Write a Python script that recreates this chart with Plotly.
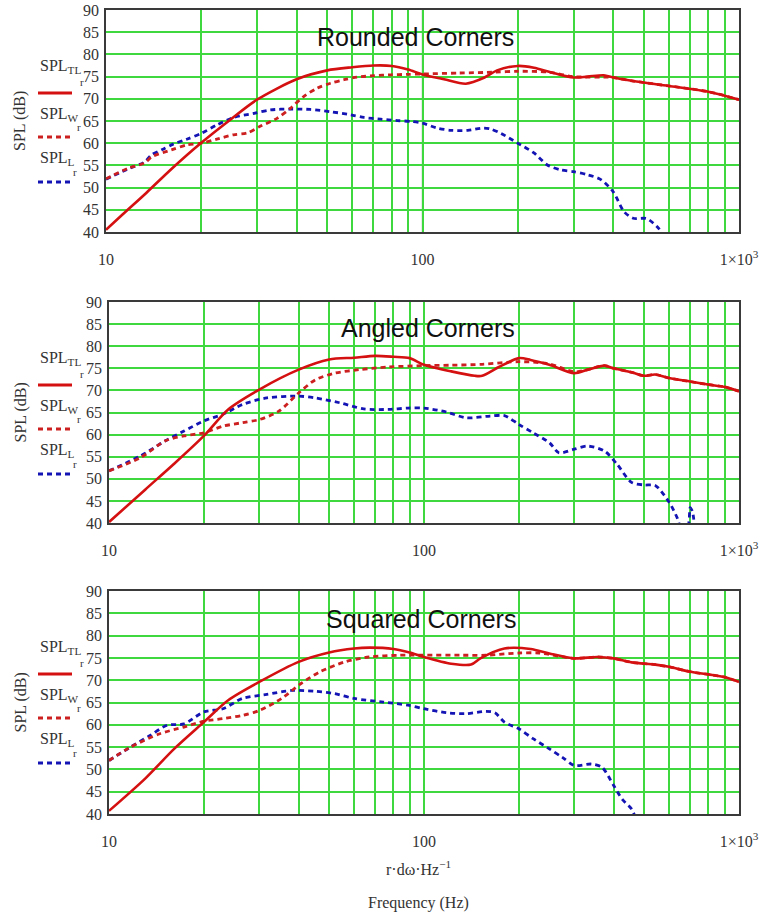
import plotly.graph_objects as go

# ---------------- data ----------------
titles = ["Rounded Corners", "Angled Corners", "Squared Corners"]

# Rounded corners
rounded_tl_f = [10, 11.3, 13.4, 16.1, 20, 24.7, 30, 40, 50, 60, 70, 80, 90, 100, 117, 137, 157, 172, 200, 225, 254, 300, 332, 374, 400, 463, 600, 800, 1000]
rounded_tl_db = [40.5, 44.0, 48.8, 54.2, 60.1, 65.3, 69.8, 74.4, 76.4, 77.1, 77.5, 77.4, 76.6, 75.5, 74.4, 73.4, 74.8, 76.4, 77.4, 77.0, 76.0, 74.8, 75.0, 75.3, 74.8, 74.0, 72.9, 71.6, 69.8]
rounded_w_f = [10, 11.8, 13.2, 14.0, 16.1, 18.0, 20, 22.4, 25.3, 27.9, 30.7, 34.7, 38.3, 42.1, 46.5, 51.2, 56.5, 62.2, 70.3, 79.3, 89.5, 100, 130, 170, 200, 250, 300, 400, 463, 600, 800, 1000]
rounded_w_db = [52.0, 54.4, 55.5, 57.0, 58.5, 59.6, 60.0, 60.9, 61.9, 62.3, 63.8, 65.6, 67.9, 70.5, 72.4, 73.5, 74.3, 74.9, 75.2, 75.4, 75.5, 75.6, 75.8, 76.0, 76.2, 76.0, 75.0, 74.8, 74.0, 72.9, 71.6, 69.8]
rounded_l_f = [10, 11.9, 13.2, 13.95, 15.0, 16.3, 18.0, 20, 22.4, 25.3, 29.3, 33.1, 38.3, 44.2, 51.2, 59.3, 65.3, 73.8, 83.2, 91.8, 100, 111.5, 123, 139, 155, 164, 177, 200, 225, 248, 273, 300, 332, 366, 400, 433, 463, 511, 556, 580]
rounded_l_db = [51.9, 54.4, 55.7, 57.4, 58.5, 59.8, 60.9, 62.2, 64.1, 65.8, 66.7, 67.5, 67.7, 67.6, 67.1, 66.4, 65.8, 65.4, 65.1, 64.9, 64.5, 63.4, 62.9, 62.9, 63.4, 63.2, 62.2, 60.0, 57.8, 55.1, 54.0, 53.6, 52.9, 51.8, 49.1, 44.6, 43.1, 43.0, 40.9, 39.0]

# Angled corners
angled_tl_f = [10, 13.05, 16.1, 20, 23.9, 30, 40, 50, 60, 70, 80, 90, 100, 122, 145, 153, 173, 200, 218, 250, 300, 331, 374, 400, 456, 500, 542, 600, 700, 800, 900, 1000]
angled_tl_db = [40.2, 47.6, 53.4, 59.7, 65.7, 70.2, 74.7, 77.0, 77.4, 77.8, 77.6, 77.3, 75.8, 74.3, 73.3, 73.3, 75.3, 77.3, 76.9, 75.8, 73.9, 74.7, 75.6, 75.0, 74.1, 73.3, 73.6, 72.8, 72.0, 71.3, 70.8, 69.8]
angled_w_f = [10, 12.6, 15.1, 17.3, 20, 23.0, 26.5, 30, 34.6, 40, 45.2, 52.1, 62.3, 77.0, 100, 122, 153, 200, 250, 300, 331, 374, 400, 456, 500, 542, 600, 700, 800, 900, 1000]
angled_w_db = [51.8, 54.8, 58.6, 59.7, 60.4, 61.9, 62.7, 63.4, 65.3, 69.4, 72.4, 73.9, 74.7, 75.3, 75.6, 75.7, 75.9, 76.5, 76.0, 74.2, 74.7, 75.6, 75.0, 74.1, 73.3, 73.6, 72.8, 72.0, 71.3, 70.8, 69.8]
angled_l_f = [10, 12.6, 15.1, 17.3, 20, 23, 26.5, 31.7, 40, 45.2, 54, 64.4, 77, 89, 100, 118, 136, 162, 180, 200, 222, 250, 268, 300, 330, 374, 410, 456, 500, 542, 600, 638, 660, 690, 700, 712, 725]
angled_l_db = [51.8, 55.2, 58.6, 60.8, 63.1, 64.6, 66.8, 68.3, 68.7, 68.3, 67.2, 65.8, 65.7, 66.0, 66.0, 65.1, 63.8, 64.2, 64.3, 62.3, 60.4, 58.2, 55.9, 56.7, 57.4, 56.3, 53.3, 49.2, 48.6, 48.5, 44.7, 41.0, 38.0, 39.5, 43.5, 42.5, 38.0]

# Squared corners
squared_tl_f = [10, 13.05, 16.1, 20, 23.9, 30, 40, 50, 60, 67.1, 80, 90, 100, 122, 141, 151, 180, 218, 250, 300, 355, 400, 456, 542, 600, 700, 800, 900, 1000]
squared_tl_db = [40.7, 48.0, 54.6, 60.6, 65.5, 69.6, 74.1, 76.2, 77.1, 77.3, 77.0, 76.2, 75.2, 73.7, 73.5, 74.9, 77.1, 77.0, 76.0, 74.9, 75.2, 74.9, 74.0, 73.5, 73.0, 71.9, 71.3, 70.7, 69.6]
squared_w_f = [10, 11.7, 14.5, 17.3, 20, 23, 26.5, 30, 35.3, 40.6, 46.8, 56, 67, 83.5, 100, 131, 157, 200, 232, 300, 355, 400, 456, 542, 600, 700, 800, 900, 1000]
squared_w_db = [52.0, 55.0, 58.0, 59.5, 60.8, 61.4, 62.1, 63.2, 65.9, 69.2, 71.9, 74.1, 75.2, 75.6, 75.6, 75.6, 75.6, 76.1, 76.1, 74.9, 75.2, 74.9, 74.0, 73.5, 73.0, 71.9, 71.3, 70.7, 69.6]
squared_l_f = [10, 11.7, 13.5, 15.3, 17.3, 20, 23, 26.5, 31.7, 37.9, 45.2, 52, 60, 74.4, 89, 100, 118, 136, 157, 168, 180, 200, 222, 250, 275, 300, 340, 367, 400, 425, 456, 470]
squared_l_db = [52.0, 55.0, 57.6, 59.9, 60.2, 62.9, 63.6, 65.9, 66.8, 67.7, 67.5, 67.0, 65.9, 65.1, 64.4, 63.6, 62.7, 62.5, 63.0, 62.7, 60.6, 59.1, 56.9, 54.6, 52.7, 50.9, 51.2, 50.5, 46.4, 43.4, 41.1, 39.0]

x_tick_vals = [10, 20, 30, 40, 50, 60, 70, 80, 90, 100, 200, 300, 400, 500, 600, 700, 800, 900, 1000]
x_tick_text = ["10", "", "", "", "", "", "", "", "", "100", "", "", "", "", "", "", "", "", "1×10<sup>3</sup>"]
y_tick_vals = [40, 45, 50, 55, 60, 65, 70, 75, 80, 85, 90]

legend_names = ["SPL<sub>TL</sub>", "SPL<sub>W</sub>", "SPL<sub>L</sub>"]
legend_sub = "r"

panels = [
    (rounded_tl_f, rounded_tl_db, rounded_w_f, rounded_w_db, rounded_l_f, rounded_l_db),
    (angled_tl_f, angled_tl_db, angled_w_f, angled_w_db, angled_l_f, angled_l_db),
    (squared_tl_f, squared_tl_db, squared_w_f, squared_w_db, squared_l_f, squared_l_db),
]

# ---------------- layout geometry ----------------
W, H = 761, 914


def px(x):
    return x / W


def py(y):
    return 1 - y / H


plot_px = [(106, 739, 10, 232), (109, 739, 302, 523), (109, 739, 591, 814)]
title_px = [(415, 37), (428, 328), (421, 619)]

RED = "#d41010"
RED_D = "#cc2020"
BLUE = "#1414b4"
GRID = "#3fd93f"
SERIF = "Liberation Serif, Times New Roman, serif"
TXT = "#333333"

fig = go.Figure()
layout = dict(width=W, height=H, margin=dict(l=0, r=0, t=0, b=0, autoexpand=False),
              paper_bgcolor="white", plot_bgcolor="white", showlegend=False)
annotations = []
shapes = []

for i, (tlf, tld, wf, wd, lf, ld) in enumerate(panels):
    n = "" if i == 0 else str(i + 1)
    xa, ya = "x" + n, "y" + n
    x0, x1, y0, y1 = plot_px[i]
    layout["xaxis" + n] = dict(
        type="log", range=[1, 3], domain=[px(x0), px(x1)], anchor=ya, automargin=False,
        tickvals=x_tick_vals, ticktext=x_tick_text, showgrid=True, ticklabeloverflow="allow",
        gridcolor=GRID, gridwidth=1.6, showline=True, linecolor="#3a3a3a",
        linewidth=1.5, mirror=True, ticks="", ticklabelstandoff=12,
        tickfont=dict(family=SERIF, size=16, color=TXT), zeroline=False)
    layout["yaxis" + n] = dict(
        range=[40, 90], domain=[py(y1), py(y0)], anchor=xa, automargin=False,
        tickvals=y_tick_vals, showgrid=True, gridcolor=GRID, gridwidth=1.6,
        showline=True, linecolor="#3a3a3a", linewidth=1.5, mirror=True,
        ticks="", ticklabelstandoff=2, ticklabeloverflow="allow",
        tickfont=dict(family=SERIF, size=16, color=TXT), zeroline=False)

    fig.add_trace(go.Scatter(x=lf, y=ld, mode="lines", xaxis=xa, yaxis=ya,
                             line=dict(color=BLUE, width=2.8, dash="5px,4px", shape="spline", smoothing=0.8)))
    fig.add_trace(go.Scatter(x=wf, y=wd, mode="lines", xaxis=xa, yaxis=ya,
                             line=dict(color=RED_D, width=2.8, dash="5px,4px", shape="spline", smoothing=0.8)))
    fig.add_trace(go.Scatter(x=tlf, y=tld, mode="lines", xaxis=xa, yaxis=ya,
                             line=dict(color=RED, width=2.6, shape="spline", smoothing=0.8)))

    # black gridline at 100 Hz
    shapes.append(dict(type="line", xref=xa, yref=ya + " domain", x0=100, x1=100, y0=0, y1=1,
                       line=dict(color="#222222", width=1.2), layer="below"))

    # panel title
    tx, ty = title_px[i]
    annotations.append(dict(text=titles[i], x=px(tx), y=py(ty), xref="paper", yref="paper",
                            showarrow=False, xanchor="center", yanchor="middle",
                            font=dict(family="Liberation Sans, Arial, sans-serif", size=25, color="#111111")))

    # legend-like labels and line samples
    leg = [(legend_names[0], 55, 72, 82, 83, RED, "solid"),
           (legend_names[1], 103, 117, 79, 127, RED_D, "dash"),
           (legend_names[2], 147, 162, 75, 172, BLUE, "dash")]
    for txt, ty_off, r_off, r_x, ly_off, col, ds in leg:
        annotations.append(dict(text=txt, x=px(38), y=py(y0 + ty_off - 10), xref="paper", yref="paper",
                                showarrow=False, xanchor="left", yanchor="top",
                                font=dict(family=SERIF, size=16, color=TXT)))
        annotations.append(dict(text=legend_sub, x=px(r_x), y=py(y0 + r_off), xref="paper", yref="paper",
                                showarrow=False, xanchor="center", yanchor="middle",
                                font=dict(family=SERIF, size=11, color=TXT)))
        shapes.append(dict(type="line", xref="paper", yref="paper", x0=px(38), x1=px(72),
                           y0=py(y0 + ly_off), y1=py(y0 + ly_off),
                           line=dict(color=col, width=2.8, dash="5px,4px" if ds == "dash" else "solid")))

    # y axis title
    annotations.append(dict(text="SPL (dB)", x=px(20), y=py((y0 + y1) / 2), xref="paper", yref="paper",
                            showarrow=False, textangle=-90, xanchor="center", yanchor="middle",
                            font=dict(family=SERIF, size=16, color=TXT)))

annotations.append(dict(text="r·dω·Hz<sup>−1</sup>", x=px(418), y=py(868), xref="paper", yref="paper",
                        showarrow=False, xanchor="center", yanchor="middle",
                        font=dict(family=SERIF, size=16, color=TXT)))
annotations.append(dict(text="Frequency (Hz)", x=px(418), y=py(903), xref="paper", yref="paper",
                        showarrow=False, xanchor="center", yanchor="middle",
                        font=dict(family=SERIF, size=16, color=TXT)))

layout["annotations"] = annotations
layout["shapes"] = shapes
fig.update_layout(**layout)
# remove the default 8px page margin so the figure fills the window exactly
fig.write_html("out.html", config={"displayModeBar": False},
               post_script="document.body.style.margin='0';document.body.style.overflow='hidden';")
